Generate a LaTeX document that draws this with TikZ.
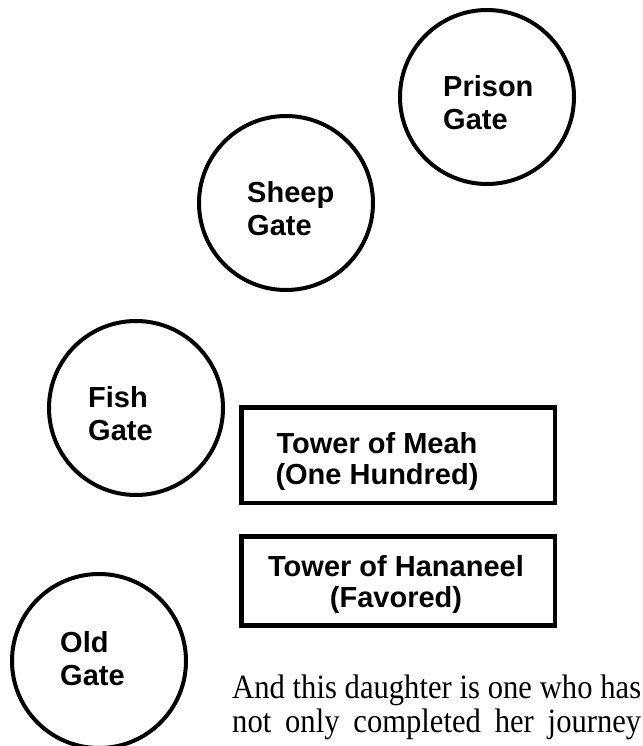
\documentclass[tikz,border=0pt]{standalone}
\usepackage{fontspec}
\setmainfont{Liberation Serif}
\setsansfont{Liberation Sans}
\newfontfamily\narrowserif[FakeStretch=0.9]{Liberation Serif}
\usetikzlibrary{positioning}

\begin{document}
\begin{tikzpicture}[x=1pt,y=-1pt,
  gate/.style={draw,circle,line width=4pt,minimum size=174pt,inner sep=0pt},
  gatelabel/.style={font=\sffamily\bfseries\fontsize{29}{33}\selectfont,align=left,inner sep=0pt,anchor=base west},
  tower/.style={draw,rectangle,line width=4.5pt,inner sep=0pt},
  towerlabel/.style={font=\sffamily\bfseries\fontsize{29}{31}\selectfont,align=center,inner sep=0pt,anchor=base}]
  \useasboundingbox (0,0) rectangle (642,746);
  % gates (label placed by its last baseline)
  \foreach \name/\x/\y/\dx/\dy/\txt in {prison/487/97/-44/33/Prison, sheep/286/203/-39/32/Sheep, fish/136/408/-48/32/Fish, old/99/661/-39/24/Old} {
    \node[gate] (\name) at (\x,\y) {};
    \node[gatelabel] (\name txt) at (\x+\dx,\y+\dy) {\txt\\Gate};
  }
  % towers
  \node[tower,minimum width=313.5pt,minimum height=95.5pt] (meah) at (398,455) {};
  \node[towerlabel] (meahtxt) at (377,484) {Tower of Meah\\(One Hundred)};
  \node[tower,minimum width=313.5pt,minimum height=89pt] (hananeel) at (398,581) {};
  \node[towerlabel] (hananeeltxt) at (396,607) {Tower of Hananeel\\(Favored)};
  % running text
  \node[font=\narrowserif\fontsize{34}{34}\selectfont,align=left,inner sep=0pt,anchor=base west] (quote) at (232,732)
    {\makebox[409pt][s]{And this daughter is one who has}\\
     \makebox[409pt][s]{not only completed her journey}};
\end{tikzpicture}
\end{document}
